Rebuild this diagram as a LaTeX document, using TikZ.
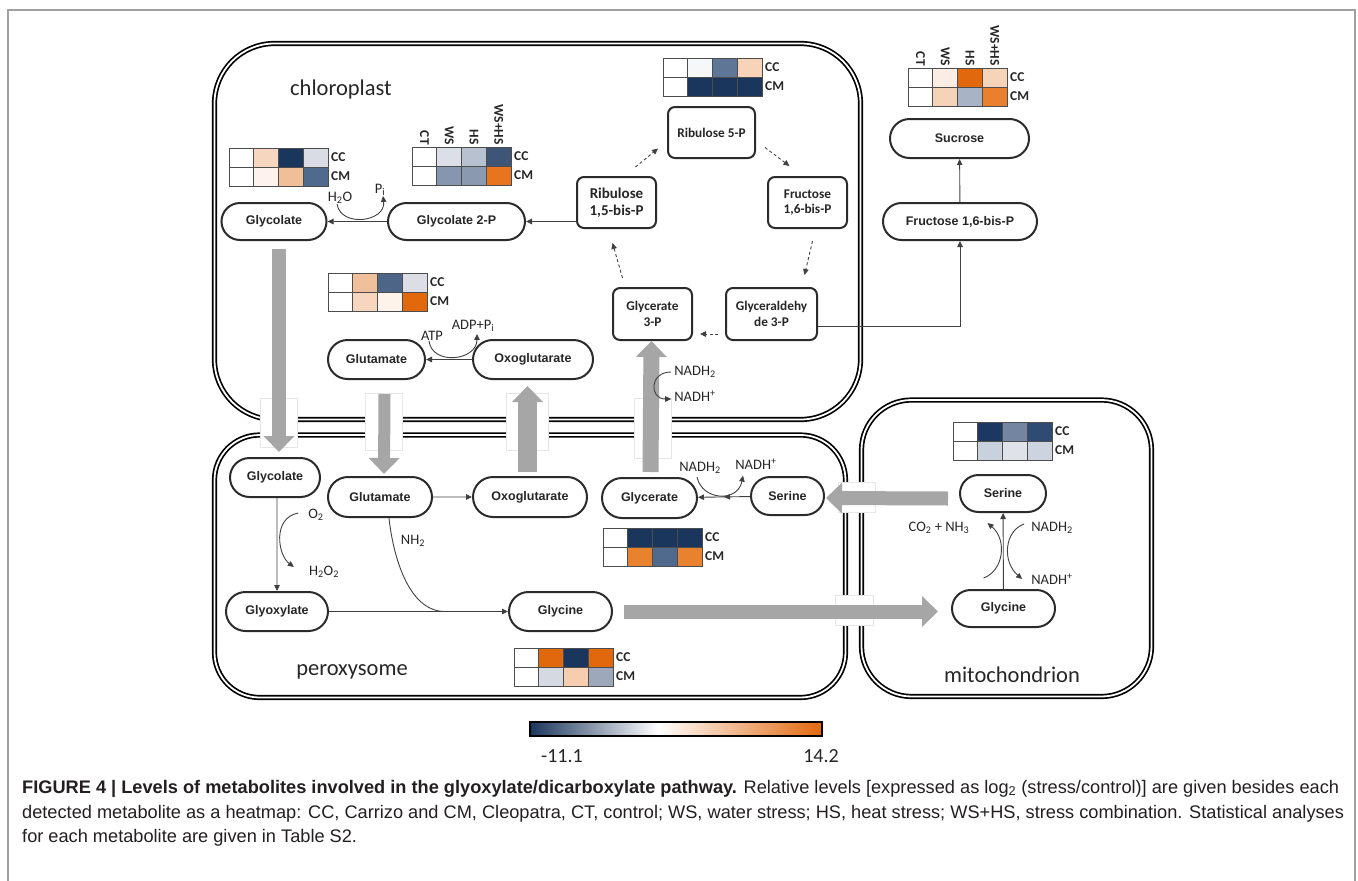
\documentclass[tikz,border=0pt]{standalone}
\usepackage{fontspec}
\setmainfont{Carlito}
\newfontfamily\arialfont{Liberation Sans}
\usetikzlibrary{shapes.misc,arrows.meta,decorations.markings}

\definecolor{navy}{HTML}{1B365D}
\definecolor{orng}{HTML}{E2680E}
\definecolor{txt}{HTML}{262626}
\definecolor{nodeline}{HTML}{2B2B2B}
\definecolor{linec}{HTML}{404040}
\definecolor{bigg}{HTML}{A6A6A6}
\definecolor{gapc}{HTML}{E6E6E6}
\definecolor{cellc}{HTML}{4D4D4D}
\definecolor{framec}{HTML}{A0A0A0}
\definecolor{capc}{HTML}{231F20}

\tikzset{
  pill/.style={rounded rectangle, draw=nodeline, line width=2pt, fill=white, inner sep=0pt, text=txt, font=\arialfont\bfseries\fontsize{12.5}{14}\selectfont},
  rbox/.style={rectangle, rounded corners=7pt, draw=nodeline, line width=2pt, fill=white, inner sep=0pt, align=center, text=txt, font=\bfseries\fontsize{13.3}{15.5}\selectfont},
  conn/.style={linec, line width=0.9pt, -{Triangle[length=6pt,width=5.5pt]}},
  dconn/.style={conn, dash pattern=on 3pt off 2.5pt},
  bigarrow/.style={bigg, line width=#1, -{Triangle[length=16pt,width=30pt]}},
  membrane/.style={draw=black, double=white, line width=1.7pt, double distance=1.8pt},
  gapbox/.style={fill=white, draw=gapc, line width=0.8pt},
  hcell/.style={draw=cellc, line width=1pt},
  hlab/.style={inner sep=0pt, text=txt, font=\bfseries\fontsize{13.5}{15}\selectfont},
  hhd/.style={rotate=-90, anchor=east, inner sep=0pt, text=txt, font=\bfseries\fontsize{13.5}{15}\selectfont},
  lbl/.style={inner sep=0pt, text=txt, font=\fontsize{14.5}{16}\selectfont},
  comp/.style={inner sep=0pt, text=txt, font=\fontsize{22.5}{24}\selectfont},
  capt/.style={inner sep=0pt, anchor=base west, text=capc, font=\arialfont\fontsize{18.2}{22}\selectfont},
}

\newcommand{\hmap}[5]{%
  \foreach \hc [count=\i from 0] in {#4} {
    \definecolor{hcol}{HTML}{\hc}
    \draw[hcell, fill=hcol] ({#2+24.75*\i},#3) rectangle ++(24.75,19);
  }
  \foreach \hc [count=\i from 0] in {#5} {
    \definecolor{hcol}{HTML}{\hc}
    \draw[hcell, fill=hcol] ({#2+24.75*\i},{#3+19}) rectangle ++(24.75,19);
  }
  \node[hlab, anchor=west] (#1-cc) at ({#2+102},{#3+9.5}) {CC};
  \node[hlab, anchor=west] (#1-cm) at ({#2+102},{#3+28.5}) {CM};
}
\newcommand{\hhead}[3]{%
  \foreach \hname [count=\i from 0] in {CT,WS,HS,WS+HS}
    \node[hhd] (#1-\i) at ({#2+12.4+24.75*\i},{#3-2}) {\hname};
}

\begin{document}
\begin{tikzpicture}[x=1pt,y=-1pt]
\useasboundingbox (0,0) rectangle (1358,881);
\draw[framec, line width=1.2pt] (8,881) |- (1355,10) -- (1355,881);

\draw[membrane, rounded corners=60pt] (214.5,43.5) rectangle (860.5,419.5);
\draw[membrane, rounded corners=45pt] (214.5,435) rectangle (845.5,697.5);
\draw[membrane, rounded corners=50pt] (861.5,400) rectangle (1151.5,696.5);

\draw[gapbox] (260,398) rectangle (297,447);
\draw[gapbox] (365,393) rectangle (402,450);
\draw[gapbox] (506,393) rectangle (548,450);
\draw[gapbox] (634,398) rectangle (671,458);
\draw[gapbox] (838,482) rectangle (875,512);
\draw[gapbox] (835,595) rectangle (873,625);

\node[comp] (chl) at (341,89) {chloroplast};
\node[comp] (per) at (352,672) {peroxysome};
\node[comp] (mit) at (1012,675) {mitochondrion};

\node[pill, minimum width=105pt, minimum height=37pt] (glyc) at (274,221.5) {Glycolate};
\node[pill, minimum width=137pt, minimum height=37pt] (glyc2p) at (456.5,221.5) {Glycolate 2-P};
\node[rbox, minimum width=79pt, minimum height=51pt, font=\bfseries\fontsize{15}{17}\selectfont] (rib15) at (616.5,202.5) {Ribulose\\1,5-bis-P};
\node[rbox, minimum width=87pt, minimum height=51pt] (rib5p) at (711.5,132.5) {Ribulose 5-P};
\node[rbox, minimum width=79pt, minimum height=51pt] (fruk) at (807.5,202.5) {Fructose\\1,6-bis-P};
\node[rbox, minimum width=79pt, minimum height=52pt] (g3p) at (652.5,314) {Glycerate\\3-P};
\node[rbox, minimum width=91pt, minimum height=52pt] (gald) at (771.5,314) {Glyceraldehy\\de 3-P};
\node[pill, minimum width=97pt, minimum height=39pt] (gluc) at (376.5,359.5) {Glutamate};
\node[pill, minimum width=120pt, minimum height=39pt] (oxoc) at (533,359.5) {Oxoglutarate};
\node[pill, minimum width=139pt, minimum height=39pt] (suc) at (959.5,138.5) {Sucrose};
\node[pill, minimum width=154pt, minimum height=37pt] (fruc) at (960,221.5) {Fructose 1,6-bis-P};
\node[pill, minimum width=90pt, minimum height=39pt] (glycp) at (275,477.5) {Glycolate};
\node[pill, minimum width=104pt, minimum height=40pt] (glup) at (380,497) {Glutamate};
\node[pill, minimum width=114pt, minimum height=40pt] (oxop) at (530,497) {Oxoglutarate};
\node[pill, minimum width=95pt, minimum height=40pt] (glyr) at (649.5,498) {Glycerate};
\node[pill, minimum width=73pt, minimum height=38pt] (serp) at (787.5,496) {Serine};
\node[pill, minimum width=102pt, minimum height=39pt] (glyox) at (277,611.5) {Glyoxylate};
\node[pill, minimum width=103pt, minimum height=39pt] (glyp) at (560.5,611.5) {Glycine};
\node[pill, minimum width=86pt, minimum height=37pt] (serm) at (1003,493.5) {Serine};
\node[pill, minimum width=103pt, minimum height=37pt] (glym) at (1003.5,608.5) {Glycine};

\draw[bigarrow=14pt] ([xshift=5pt,yshift=-8pt]glyc.south) -- ([xshift=4pt,yshift=5pt]glycp.north);
\draw[bigarrow=12pt] ([xshift=8pt,yshift=-14pt]gluc.south) -- ([xshift=4pt,yshift=2pt]glup.north);
\draw[bigarrow=19pt] ([xshift=-2.5pt,yshift=4pt]oxop.north) -- ([xshift=-5.5pt,yshift=-6pt]oxoc.south);
\draw[bigarrow=16pt] ([xshift=1pt,yshift=5pt]glyr.north) -- ([xshift=-1pt]g3p.south);
\draw[bigarrow=14pt] ([xshift=-11pt,yshift=-5pt]serm.west) -- ([xshift=1pt,yshift=-2pt]serp.east);
\draw[bigarrow=14pt] ([xshift=11pt]glyp.east) -- ([xshift=-13pt,yshift=-3pt]glym.west);

\node[lbl] (h2o) at (340,198) {H\textsubscript{2}O};
\node[lbl] (pi) at (380,190) {P\textsubscript{i}};
\node[lbl] (atp) at (432,336) {ATP};
\node[lbl] (adp) at (473,326) {ADP+P\textsubscript{i}};
\node[lbl] (nadha) at (695,372) {NADH\textsubscript{2}};
\node[lbl] (nadhb) at (695,396) {NADH\textsuperscript{+}};
\node[lbl] (o2) at (316,515) {O\textsubscript{2}};
\node[lbl] (h2o2) at (324,572) {H\textsubscript{2}O\textsubscript{2}};
\node[lbl] (nh2) at (413,541) {NH\textsubscript{2}};
\node[lbl] (nadhc) at (700,468) {NADH\textsubscript{2}};
\node[lbl] (nadhd) at (756,464) {NADH\textsuperscript{+}};
\node[lbl] (co2) at (939,528) {CO\textsubscript{2} + NH\textsubscript{3}};
\node[lbl] (nadhe) at (1052,528) {NADH\textsubscript{2}};
\node[lbl] (nadhf) at (1052,579) {NADH\textsuperscript{+}};
\coordinate (nhjoin) at (445,611.5);

\draw[conn] (rib15.west |- glyc2p) -- (glyc2p);
\draw[conn] (glyc2p) -- (glyc);
\draw[conn] ([xshift=-3pt]h2o.south) .. controls +(4,24) and +(3,26) .. ([xshift=3pt]pi.south);
\draw[dconn] ([xshift=19pt,yshift=9pt]rib15.north) -- ([xshift=-9pt,yshift=-16pt]rib5p.west);
\draw[dconn] ([xshift=9pt,yshift=-15pt]rib5p.east) -- ([xshift=-18pt,yshift=10pt]fruk.north);
\draw[dconn] ([xshift=5pt,yshift=-12pt]fruk.south) -- ([xshift=33pt,yshift=12pt]gald.north);
\draw[dconn, shorten <=7pt, shorten >=7pt] ([yshift=-20pt]gald.west) -- ([yshift=-20pt]g3p.east);
\draw[dconn] ([xshift=-30pt,yshift=9pt]g3p.north) -- ([xshift=-4pt,yshift=-14pt]rib15.south);
\draw[conn] ([yshift=-12pt]gald.east) -| (fruc);
\draw[conn] (fruc) -- (suc);
\draw[conn] (oxoc) -- (gluc);
\draw[conn] ([xshift=-3pt]atp.south) .. controls +(3,25) and +(0,27) .. ([xshift=4pt,yshift=-2pt]adp.south);
\draw[conn] ([xshift=-3pt]nadha.west) .. controls +(-22,0) and +(-22,0) .. ([xshift=-3pt,yshift=-3pt]nadhb.west);

\draw[conn] (glycp.south -| glyox) -- (glyox);
\draw[conn] ([xshift=-10pt,yshift=2pt]o2.west) .. controls +(-26,5) and +(-16,-12) .. ([xshift=-15pt,yshift=5pt]h2o2.west);
\draw[conn] (glup) -- (oxop);
\draw[conn] (glyox) -- (glyp);
\draw[linec, line width=0.9pt] ([xshift=9pt]glup.south) .. controls (393,555) and (408,611.5) .. (nhjoin);
\draw[conn, postaction={decorate}, decoration={markings, mark=at position 0.5 with {\arrow{Triangle[length=6pt,width=5.5pt]}}}] (serp) -- (glyr);
\draw[conn] ([xshift=-3pt,yshift=-3pt]nadhc.south) .. controls +(5,24) and +(-5,27) .. ([xshift=-13pt,yshift=-6pt]nadhd.south);

\draw[conn] (glym) -- (serm);
\draw[conn] ([xshift=-20pt,yshift=11pt]glym.north) .. controls +(20,-7) and +(20,17) .. ([xshift=18pt,yshift=5pt]co2.east);
\draw[conn] ([xshift=-7pt,yshift=4pt]nadhe.west) .. controls +(-20,7) and +(-20,-17) .. ([xshift=-9pt]nadhf.west);

\hmap{hm1}{229}{148}{FFFFFF,F6D6BE,1B365D,D9DCE5}{FFFFFF,FDF2EE,F0BF98,4F6A8D}
\hmap{hm2}{412}{147}{FFFFFF,DCDFE7,B8C1CF,3E5578}{FFFFFF,8696AE,8A98B0,E87420}
\hhead{hh2}{412}{147}
\hmap{hm3}{663}{58}{FFFFFF,F6F7F8,5F7697,F6D3B9}{FFFFFF,1B365D,1B365D,1B365D}
\hmap{hm4}{908}{68}{FFFFFF,FBEDE4,E2680E,F5D4B9}{FFFFFF,F5D3B9,A9B3C6,E8802E}
\hhead{hh4}{908}{68}
\hmap{hm5}{328}{273}{FFFFFF,F0C09B,4D6688,DCDDE5}{FFFFFF,F6D6BE,FDF3EB,E2680E}
\hmap{hm6}{603}{528}{FFFFFF,1B365D,1B365D,1B365D}{FFFFFF,E8822F,4F6A8D,E8822F}
\hmap{hm7}{514}{648}{FFFFFF,E2680E,1B365D,E2680E}{FFFFFF,D5DAE2,F6CDAF,9DA9BB}
\hmap{hm8}{953}{422}{FFFFFF,1C3861,7385A0,2F4B73}{FFFFFF,C9D1DD,DFE2E8,CDD4DF}

\shade[left color=navy, right color=white] (530,722) rectangle (658,736);
\shade[left color=white, right color=orng] (658,722) rectangle (822,736);
\draw[line width=1.5pt] (530,722) rectangle (822,736);
\node[lbl, font=\fontsize{20}{22}\selectfont] (cbmin) at (562,756) {-11.1};
\node[lbl, font=\fontsize{20}{22}\selectfont] (cbmax) at (821,756) {14.2};

\node[capt] (cap1) at (22,793) {\bfseries FIGURE 4 | Levels of metabolites involved in the glyoxylate/dicarboxylate pathway.\mdseries{} Relative levels [expressed as log\textsubscript{2} (stress/control)] are given besides each};
\node[capt] (cap2) at (22,818) {detected metabolite as a heatmap: CC, Carrizo and CM, Cleopatra, CT, control; WS, water stress; HS, heat stress; WS+HS, stress combination. Statistical analyses};
\node[capt] (cap3) at (22,842) {for each metabolite are given in Table S2.};
\end{tikzpicture}
\end{document}
